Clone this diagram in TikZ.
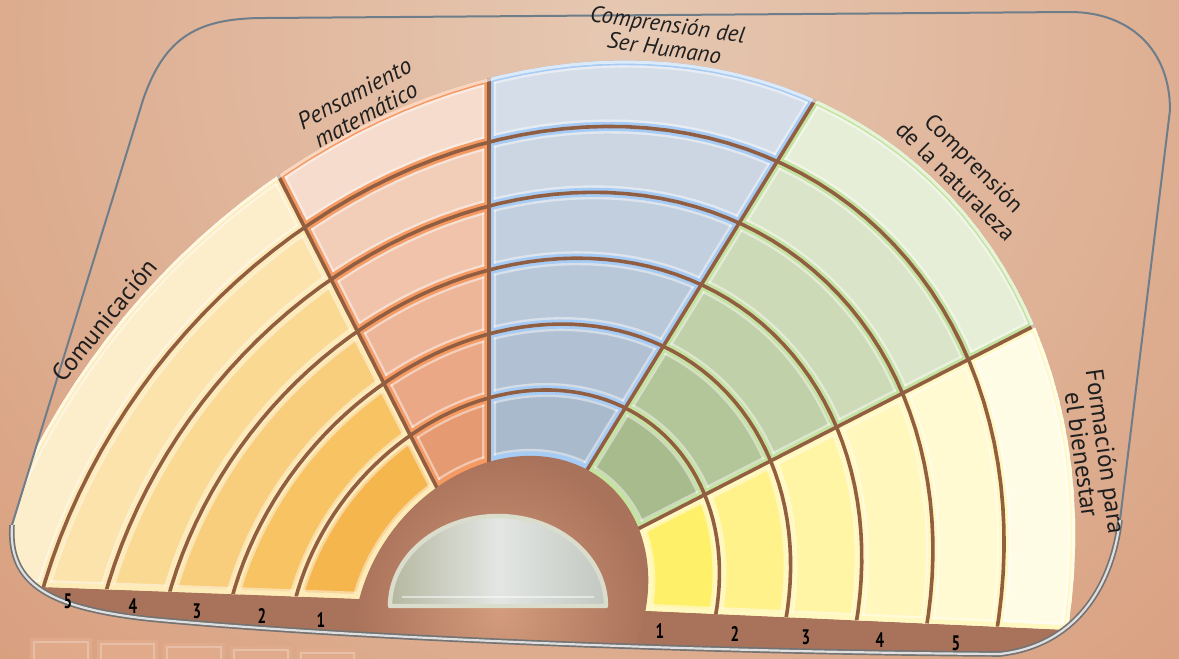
\documentclass[tikz,border=0pt]{standalone}
\usepackage{fontspec}
\setmainfont{PT Sans}
\usetikzlibrary{calc}
\definecolor{bgin}{HTML}{E6C8B2}
\definecolor{bgout}{HTML}{D28A64}
\definecolor{bandc}{HTML}{A9725A}
\definecolor{holein}{HTML}{D49C7D}
\definecolor{sepc}{HTML}{925E42}
\definecolor{framec}{HTML}{6E7D8A}
\definecolor{reflc}{HTML}{E2AC8D}
\definecolor{domeL}{HTML}{B5B8A0}
\definecolor{domeM}{HTML}{E3E6E3}
\definecolor{domeR}{HTML}{C3C8C2}
\definecolor{domeE}{HTML}{DADDCB}
% Comunicacion
\definecolor{c01}{HTML}{F5B64E}\definecolor{c02}{HTML}{F7C363}\definecolor{c03}{HTML}{F8CE7C}
\definecolor{c04}{HTML}{FAD993}\definecolor{c05}{HTML}{FBE3AB}\definecolor{c06}{HTML}{FCEDCB}
% Pensamiento
\definecolor{c11}{HTML}{E69A72}\definecolor{c12}{HTML}{EAA886}\definecolor{c13}{HTML}{EDB699}
\definecolor{c14}{HTML}{F0C3AA}\definecolor{c15}{HTML}{F2CDB8}\definecolor{c16}{HTML}{F5DCCC}
% Ser Humano
\definecolor{c21}{HTML}{A9BACD}\definecolor{c22}{HTML}{B1C1D3}\definecolor{c23}{HTML}{B9C8D9}
\definecolor{c24}{HTML}{C2CFDE}\definecolor{c25}{HTML}{CBD6E2}\definecolor{c26}{HTML}{D5DEE8}
% Naturaleza
\definecolor{c31}{HTML}{A7BB8D}\definecolor{c32}{HTML}{B3C699}\definecolor{c33}{HTML}{C0D0A8}
\definecolor{c34}{HTML}{CDDAB8}\definecolor{c35}{HTML}{D9E4C8}\definecolor{c36}{HTML}{E6EED8}
% Formacion
\definecolor{c41}{HTML}{FFF06A}\definecolor{c42}{HTML}{FFF28A}\definecolor{c43}{HTML}{FFF5A5}
\definecolor{c44}{HTML}{FFF7BC}\definecolor{c45}{HTML}{FFFAD2}\definecolor{c46}{HTML}{FFFCE6}
% edge colours
\definecolor{e0}{HTML}{FDEBB8}\definecolor{e1}{HTML}{F49A62}\definecolor{e2}{HTML}{A6CBF4}
\definecolor{e3}{HTML}{C5E3A0}\definecolor{e4}{HTML}{FFF8C0}

\newcommand\ringp[1]{plot[domain=0:360,samples=145,variable=\t]({501+2.1667*#1+(166+77.833*#1)*0.6101*cos(\t)+(135+63.167*#1)*0.7923*sin(\t)},{611+6.8333*#1-(166+77.833*#1)*0.7923*cos(\t)+(135+63.167*#1)*0.6101*sin(\t)}) -- cycle}
\newcommand\framepath{(265,18) -- (1070,12) .. controls (1130,12) and (1170,50) .. (1170,110) -- (1120,520) .. controls (1113,580) and (1080,645) .. (1000,654) .. controls (700,652) and (350,638) .. (150,619) .. controls (50,608) and (8,585) .. (12,525) -- (143,100) .. controls (165,35) and (200,18) .. (265,18) -- cycle}
\newcommand\framebottom{(1120,520) .. controls (1113,580) and (1080,645) .. (1000,654) .. controls (700,652) and (350,638) .. (150,619) .. controls (50,608) and (8,585) .. (12,525)}

\begin{document}
\begin{tikzpicture}[x=0.5pt,y=-0.5pt,
  sep/.style={draw=sepc,line width=1.8pt},
  lab/.style={text=black!88,inner sep=0pt,align=center},
  num/.style={text=black,inner sep=0pt,font=\bfseries\fontsize{10.5}{11}\selectfont,xscale=0.72}]
\useasboundingbox (0,0) rectangle (1179,659);
\fill[bgout] (0,0) rectangle (1179,659);
\begin{scope}
  \clip (0,0) rectangle (1179,659);
  \shade[inner color=bgin,outer color=bgout] (620,40) circle[radius=1350];
\end{scope}

% geometry
\coordinate (Z) at (497,604);
\coordinate (I0) at (358,598);  \coordinate (O0) at (-20,584);
\coordinate (I1) at (433,480);  \coordinate (O1) at (278,175);
\coordinate (I2) at (489,462);  \coordinate (O2) at (489,78);
\coordinate (I3) at (587,470);  \coordinate (O3) at (815,100);
\coordinate (I4) at (630,533);  \coordinate (O4) at (1030,328);
\coordinate (I5) at (635,612);  \coordinate (O5) at (1068,631);
\foreach \i in {0,...,5}{\coordinate (F\i) at ($(I\i)!3!(O\i)$);}
\coordinate (N0) at (Z); \coordinate (N5) at (Z);
\foreach \i in {1,...,4}{\coordinate (N\i) at ($(O\i)!1.2!(I\i)$);}

% reflection below the plate
\foreach \xa/\xb/\yt in {30/92/638,97/158/640,163/225/643,230/292/646,297/358/649}{
  \fill[reflc,opacity=.8] (\xa,\yt) rectangle (\xb,665);
  \draw[white,opacity=.25,line width=.6pt] (\xa+4,\yt+4) rectangle (\xb-4,668);
}

\begin{scope}
  \clip \framepath;
  \fill[bandc] \ringp{6};
  % sectors
  \foreach \s/\j in {0/1,1/2,2/3,3/4,4/5}{
    \pgfmathtruncatemacro\ii{\s}
    \begin{scope}
      \clip (N\ii) -- (F\ii) -- (F\j) -- (N\j) -- cycle;
      \clip \ringp{6};
      \foreach \k in {1,...,6}{
        \pgfmathtruncatemacro\km{\k-1}
        \fill[c\s\k,even odd rule] \ringp{\k} \ringp{\km};
      }
      \foreach \k in {0,...,6}{\draw[white,opacity=.45,line width=7pt] \ringp{\k};}
      \draw[white,opacity=.45,line width=7pt] (N\ii) -- (F\ii) (N\j) -- (F\j);
      \foreach \k in {0,...,6}{\draw[e\s,line width=4.6pt] \ringp{\k};}
      \draw[e\s,line width=4.6pt] (N\ii) -- (F\ii) (N\j) -- (F\j);
    \end{scope}
  }
  % brown separators
  \begin{scope}
    \clip (Z) -- (F0) -- (F1) -- (F2) -- (F3) -- (F4) -- (F5) -- cycle;
    \clip \ringp{6};
    \foreach \k in {1,...,5}{\draw[sep] \ringp{\k};}
    \foreach \i in {1,...,4}{\draw[sep] (N\i) -- (F\i);}
    \draw[white,opacity=.6,line width=3pt] \ringp{6};
  \end{scope}
  % central hole
  \shade[inner color=holein,outer color=bandc] \ringp{0};
  % dome
  \shade[left color=domeL,right color=domeR,middle color=domeM]
    (390,606) arc[start angle=180,end angle=360,x radius=108,y radius=90] -- cycle;
  \draw[domeE,line width=2.2pt,line join=round]
    (390,606) arc[start angle=180,end angle=360,x radius=108,y radius=90] -- cycle;
  \draw[white,opacity=.5,line width=1pt] (402,597) -- (594,597);
\end{scope}

% frame
\draw[framec,line width=1pt] \framepath;
\draw[line width=2.8pt,draw=black!55] \framebottom;
\draw[line width=1.1pt,draw=white!75!gray] \framebottom;

% labels
\node[lab,rotate=50.6,font=\fontsize{12.5}{14}\selectfont] (tcom) at (104,320) {Comunicación};
\node[lab,rotate=28,font=\itshape\fontsize{12}{12}\selectfont] (tpen) at (360,104) {Pensamiento\\matemático};
\node[lab,rotate=-8,font=\itshape\fontsize{11.5}{12}\selectfont] (tser) at (666,36) {Comprensión del\\Ser Humano};
\node[lab,rotate=-45,font=\fontsize{11.5}{13}\selectfont] (tnat) at (965,172) {Comprensión\\de la naturaleza};
\node[lab,rotate=-82,font=\fontsize{12.5}{12}\selectfont] (tfor) at (1094,453) {Formación para\\el bienestar};

% ring numbers
\node[num] (l5) at (68,601) {5};
\node[num] (l4) at (133,606) {4};
\node[num] (l3) at (197,611) {3};
\node[num] (l2) at (262,616) {2};
\node[num] (l1) at (321,620) {1};
\node[num] (r1) at (660,631) {1};
\node[num] (r2) at (735,634) {2};
\node[num] (r3) at (806,637) {3};
\node[num] (r4) at (880,640) {4};
\node[num] (r5) at (956,643) {5};
\end{tikzpicture}
\end{document}
